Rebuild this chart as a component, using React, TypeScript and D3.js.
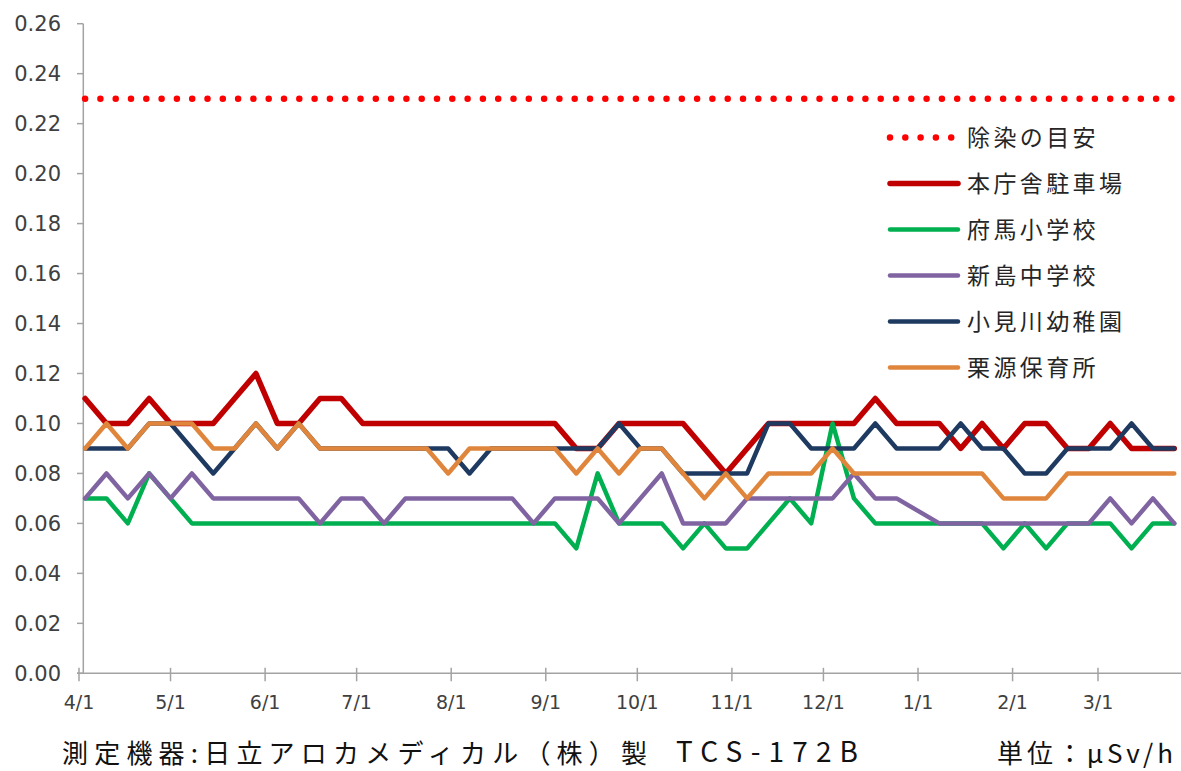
import React, { useEffect, useRef } from 'react';
import * as d3 from 'd3';

// weekly measurement dates (FY2013)
const dates = [
  '2013-04-03', '2013-04-10', '2013-04-17', '2013-04-24',
  '2013-05-01', '2013-05-08', '2013-05-15', '2013-05-22', '2013-05-29',
  '2013-06-05', '2013-06-12', '2013-06-19', '2013-06-26',
  '2013-07-03', '2013-07-10', '2013-07-17', '2013-07-24', '2013-07-31',
  '2013-08-07', '2013-08-14', '2013-08-21', '2013-08-28',
  '2013-09-04', '2013-09-11', '2013-09-18', '2013-09-25',
  '2013-10-02', '2013-10-09', '2013-10-16', '2013-10-23', '2013-10-30',
  '2013-11-06', '2013-11-13', '2013-11-20', '2013-11-27',
  '2013-12-04', '2013-12-11', '2013-12-18', '2013-12-25',
  '2014-01-01', '2014-01-08', '2014-01-15', '2014-01-22', '2014-01-29',
  '2014-02-05', '2014-02-12', '2014-02-19', '2014-02-26',
  '2014-03-05', '2014-03-12', '2014-03-19', '2014-03-26',
];

const honchosha = [
  0.11, 0.10, 0.10, 0.11, 0.10, 0.10, 0.10, 0.11, 0.12, 0.10, 0.10, 0.11, 0.11,
  0.10, 0.10, 0.10, 0.10, 0.10, 0.10, 0.10, 0.10, 0.10, 0.10, 0.09, 0.09, 0.10,
  0.10, 0.10, 0.10, 0.09, 0.08, 0.09, 0.10, 0.10, 0.10, 0.10, 0.10, 0.11, 0.10,
  0.10, 0.10, 0.09, 0.10, 0.09, 0.10, 0.10, 0.09, 0.09, 0.10, 0.09, 0.09, 0.09,
];
const fuma = [
  0.07, 0.07, 0.06, 0.08, 0.07, 0.06, 0.06, 0.06, 0.06, 0.06, 0.06, 0.06, 0.06,
  0.06, 0.06, 0.06, 0.06, 0.06, 0.06, 0.06, 0.06, 0.06, 0.06, 0.05, 0.08, 0.06,
  0.06, 0.06, 0.05, 0.06, 0.05, 0.05, 0.06, 0.07, 0.06, 0.10, 0.07, 0.06, 0.06,
  0.06, 0.06, 0.06, 0.06, 0.05, 0.06, 0.05, 0.06, 0.06, 0.06, 0.05, 0.06, 0.06,
];
const niijima = [
  0.07, 0.08, 0.07, 0.08, 0.07, 0.08, 0.07, 0.07, 0.07, 0.07, 0.07, 0.06, 0.07,
  0.07, 0.06, 0.07, 0.07, 0.07, 0.07, 0.07, 0.07, 0.06, 0.07, 0.07, 0.07, 0.06,
  0.07, 0.08, 0.06, 0.06, 0.06, 0.07, 0.07, 0.07, 0.07, 0.07, 0.08, 0.07, 0.07,
  0.065, 0.06, 0.06, 0.06, 0.06, 0.06, 0.06, 0.06, 0.06, 0.07, 0.06, 0.07, 0.06,
];
const omigawa = [
  0.09, 0.09, 0.09, 0.10, 0.10, 0.09, 0.08, 0.09, 0.10, 0.09, 0.10, 0.09, 0.09,
  0.09, 0.09, 0.09, 0.09, 0.09, 0.08, 0.09, 0.09, 0.09, 0.09, 0.09, 0.09, 0.10,
  0.09, 0.09, 0.08, 0.08, 0.08, 0.08, 0.10, 0.10, 0.09, 0.09, 0.09, 0.10, 0.09,
  0.09, 0.09, 0.10, 0.09, 0.09, 0.08, 0.08, 0.09, 0.09, 0.09, 0.10, 0.09, 0.09,
];
const kurimoto = [
  0.09, 0.10, 0.09, 0.10, 0.10, 0.10, 0.09, 0.09, 0.10, 0.09, 0.10, 0.09, 0.09,
  0.09, 0.09, 0.09, 0.09, 0.08, 0.09, 0.09, 0.09, 0.09, 0.09, 0.08, 0.09, 0.08,
  0.09, 0.09, 0.08, 0.07, 0.08, 0.07, 0.08, 0.08, 0.08, 0.09, 0.08, 0.08, 0.08,
  0.08, 0.08, 0.08, 0.08, 0.07, 0.07, 0.07, 0.08, 0.08, 0.08, 0.08, 0.08, 0.08,
];
const josenGuide = 0.23;

const seriesNames = ['除染の目安', '本庁舎駐車場', '府馬小学校', '新島中学校', '小見川幼稚園', '栗源保育所'];
const monthTicks = [
  '2013-04-01', '2013-05-01', '2013-06-01', '2013-07-01', '2013-08-01', '2013-09-01',
  '2013-10-01', '2013-11-01', '2013-12-01', '2014-01-01', '2014-02-01', '2014-03-01',
];
const yTicks = [0, 0.02, 0.04, 0.06, 0.08, 0.1, 0.12, 0.14, 0.16, 0.18, 0.2, 0.22, 0.24, 0.26];

const width = 1181;
const height = 771;
const labelFont = '"DejaVu Sans", sans-serif';
const jpFont = '"Noto Sans CJK JP", sans-serif';

interface ISeries {
  name: string;
  values: number[];
  color: string;
  width: number;
}

const App = () => {
  const svgRef = useRef<SVGSVGElement>(null);

  useEffect(() => {
    const svg = d3.select(svgRef.current);
    svg.selectAll('*').remove();

    const parse = d3.timeParse('%Y-%m-%d');
    const days = dates.map((d) => parse(d) as Date);
    const ticks = monthTicks.map((d) => parse(d) as Date);

    const x = d3.scaleTime().domain([ticks[0], ticks[ticks.length - 1]]).range([79, 1098]);
    const y = d3.scaleLinear().domain([0, 0.26]).range([673.3, 23.7]);
    const axisColor = '#a3a3a3';
    const y0 = y(0);

    // y axis
    svg.append('line')
      .attr('x1', 83.3).attr('x2', 83.3)
      .attr('y1', y(0.26)).attr('y2', y0)
      .attr('stroke', axisColor).attr('stroke-width', 1.5);
    const yg = svg.append('g');
    yTicks.forEach((t) => {
      yg.append('line')
        .attr('x1', 77).attr('x2', 83.3)
        .attr('y1', y(t)).attr('y2', y(t))
        .attr('stroke', axisColor).attr('stroke-width', 1.5);
      yg.append('text')
        .attr('x', 61).attr('y', y(t) + 7.6)
        .attr('text-anchor', 'end')
        .attr('font-family', labelFont).attr('font-size', 21)
        .attr('fill', '#404040')
        .text(d3.format('.2f')(t));
    });

    // x axis
    svg.append('line')
      .attr('x1', 77).attr('x2', width)
      .attr('y1', y0).attr('y2', y0)
      .attr('stroke', axisColor).attr('stroke-width', 1.5);
    const xg = svg.append('g');
    ticks.forEach((t) => {
      xg.append('line')
        .attr('x1', x(t)).attr('x2', x(t))
        .attr('y1', y0 - 5.5).attr('y2', y0 + 8)
        .attr('stroke', axisColor).attr('stroke-width', 1.5);
      xg.append('text')
        .attr('x', x(t)).attr('y', 709)
        .attr('text-anchor', 'middle')
        .attr('font-family', labelFont).attr('font-size', 19)
        .attr('fill', '#404040')
        .text(d3.timeFormat('%-m/%-d')(t));
    });

    // guideline (dotted)
    const guide = days.map(() => josenGuide);
    const line = d3.line<number>()
      .x((_, i) => x(days[i]))
      .y((d) => y(d));

    svg.append('path')
      .datum(guide)
      .attr('fill', 'none')
      .attr('stroke', '#ff0000')
      .attr('stroke-width', 6.5)
      .attr('stroke-linecap', 'round')
      .attr('stroke-dasharray', '0 15.3')
      .attr('d', line);

    const series: ISeries[] = [
      { name: seriesNames[1], values: honchosha, color: '#c00000', width: 5.5 },
      { name: seriesNames[2], values: fuma, color: '#00b050', width: 4.5 },
      { name: seriesNames[3], values: niijima, color: '#8064a2', width: 4.5 },
      { name: seriesNames[4], values: omigawa, color: '#1f3a60', width: 4.5 },
      { name: seriesNames[5], values: kurimoto, color: '#e0863c', width: 4.5 },
    ];

    series.forEach((s) => {
      svg.append('path')
        .datum(s.values)
        .attr('fill', 'none')
        .attr('stroke', s.color)
        .attr('stroke-width', s.width)
        .attr('stroke-linejoin', 'round')
        .attr('stroke-linecap', 'round')
        .attr('d', line);
    });

    // legend
    const legend = svg.append('g').attr('transform', 'translate(888,137.5)');
    const rowH = 46;
    legend.append('line')
      .attr('x1', 2).attr('x2', 70).attr('y1', 0).attr('y2', 0)
      .attr('stroke', '#ff0000').attr('stroke-width', 6.5)
      .attr('stroke-linecap', 'round').attr('stroke-dasharray', '0 15.3');
    series.forEach((s, i) => {
      legend.append('line')
        .attr('x1', 2).attr('x2', 70)
        .attr('y1', (i + 1) * rowH).attr('y2', (i + 1) * rowH)
        .attr('stroke', s.color).attr('stroke-width', s.width)
        .attr('stroke-linecap', 'round');
    });
    seriesNames.forEach((n, i) => {
      legend.append('text')
        .attr('x', 79).attr('y', i * rowH + 8.5)
        .attr('font-family', jpFont).attr('font-size', 23)
        .attr('letter-spacing', 3.4)
        .attr('fill', '#262626')
        .text(n);
    });

    // footer
    const footY = 763;
    svg.append('text')
      .attr('x', 62).attr('y', footY)
      .attr('font-family', jpFont).attr('font-size', 26)
      .attr('fill', '#111')
      .attr('textLength', 585).attr('lengthAdjust', 'spacing')
      .text('測定機器:日立アロカメディカル（株）製');
    svg.append('text')
      .attr('x', 676).attr('y', footY - 1)
      .attr('font-family', jpFont).attr('font-size', 28)
      .attr('fill', '#111')
      .attr('textLength', 182).attr('lengthAdjust', 'spacing')
      .text('TCS-172B');
    svg.append('text')
      .attr('x', 997).attr('y', footY)
      .attr('font-family', jpFont).attr('font-size', 26)
      .attr('fill', '#111')
      .attr('textLength', 176).attr('lengthAdjust', 'spacing')
      .text('単位：μSv/h');
  }, []);

  return (
    <svg
      ref={svgRef}
      width={width}
      height={height}
      viewBox={`0 0 ${width} ${height}`}
      style={{ position: 'absolute', left: 0, top: 0, background: '#fff' }}
    />
  );
};

export default App;
